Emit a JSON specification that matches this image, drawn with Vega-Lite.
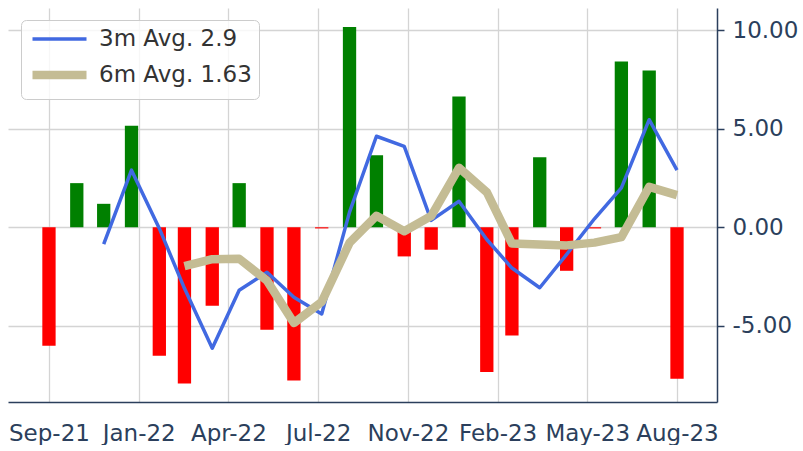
{
  "$schema": "https://vega.github.io/schema/vega-lite/v6.json",
  "width": 709,
  "height": 394,
  "padding": {"left": 8, "top": 8, "right": 0, "bottom": 0},
  "background": "white",
  "config": {
    "view": {"stroke": null},
    "font": "DejaVu Sans",
    "axis": {
      "labelFont": "DejaVu Sans",
      "labelFontSize": 23,
      "labelColor": "#2b3f5c",
      "domainColor": "#2b3f5c",
      "domainWidth": 1.5,
      "tickColor": "#2b3f5c",
      "tickWidth": 1.5,
      "gridColor": "#d4d4d4",
      "gridWidth": 1.3,
      "title": null
    },
    "legend": {
      "orient": "none",
      "legendX": 13,
      "legendY": 12,
      "symbolType": "M-1.0,0L4.4,0",
      "symbolSize": 400,
      "labelFont": "DejaVu Sans",
      "labelFontSize": 23,
      "labelColor": "#333333",
      "labelOffset": 42,
      "padding": 7,
      "rowPadding": 6.5,
      "strokeColor": "#cccccc",
      "fillColor": "rgba(255,255,255,0.8)",
      "cornerRadius": 5
    }
  },
  "datasets": {
    "bars": [
      {"date": "2021-09-30", "value": -6.02},
      {"date": "2021-10-31", "value": 2.24},
      {"date": "2021-11-30", "value": 1.19},
      {"date": "2021-12-31", "value": 5.15},
      {"date": "2022-01-31", "value": -6.52},
      {"date": "2022-02-28", "value": -7.93},
      {"date": "2022-03-31", "value": -3.98},
      {"date": "2022-04-30", "value": 2.24},
      {"date": "2022-05-31", "value": -5.2},
      {"date": "2022-06-30", "value": -7.78},
      {"date": "2022-07-31", "value": -0.06},
      {"date": "2022-08-31", "value": 10.16},
      {"date": "2022-09-30", "value": 3.66},
      {"date": "2022-10-31", "value": -1.48},
      {"date": "2022-11-30", "value": -1.14},
      {"date": "2022-12-31", "value": 6.64},
      {"date": "2023-01-31", "value": -7.35},
      {"date": "2023-02-28", "value": -5.49},
      {"date": "2023-03-31", "value": 3.56},
      {"date": "2023-04-30", "value": -2.21},
      {"date": "2023-05-31", "value": -0.06},
      {"date": "2023-06-30", "value": 8.42},
      {"date": "2023-07-31", "value": 7.96},
      {"date": "2023-08-31", "value": -7.69}
    ],
    "avgs": [
      {"date": "2021-11-30", "series": "3m Avg. 2.9", "avg": -0.86},
      {"date": "2021-12-31", "series": "3m Avg. 2.9", "avg": 2.9},
      {"date": "2022-01-31", "series": "3m Avg. 2.9", "avg": -0.06},
      {"date": "2022-02-28", "series": "3m Avg. 2.9", "avg": -3.1},
      {"date": "2022-03-31", "series": "3m Avg. 2.9", "avg": -6.14},
      {"date": "2022-04-30", "series": "3m Avg. 2.9", "avg": -3.2},
      {"date": "2022-05-31", "series": "3m Avg. 2.9", "avg": -2.28},
      {"date": "2022-06-30", "series": "3m Avg. 2.9", "avg": -3.55},
      {"date": "2022-07-31", "series": "3m Avg. 2.9", "avg": -4.4},
      {"date": "2022-08-31", "series": "3m Avg. 2.9", "avg": 0.77},
      {"date": "2022-09-30", "series": "3m Avg. 2.9", "avg": 4.62},
      {"date": "2022-10-31", "series": "3m Avg. 2.9", "avg": 4.11},
      {"date": "2022-11-30", "series": "3m Avg. 2.9", "avg": 0.35},
      {"date": "2022-12-31", "series": "3m Avg. 2.9", "avg": 1.32},
      {"date": "2023-01-31", "series": "3m Avg. 2.9", "avg": -0.62},
      {"date": "2023-02-28", "series": "3m Avg. 2.9", "avg": -2.07},
      {"date": "2023-03-31", "series": "3m Avg. 2.9", "avg": -3.07},
      {"date": "2023-04-30", "series": "3m Avg. 2.9", "avg": -1.38},
      {"date": "2023-05-31", "series": "3m Avg. 2.9", "avg": 0.43},
      {"date": "2023-06-30", "series": "3m Avg. 2.9", "avg": 2.0},
      {"date": "2023-07-31", "series": "3m Avg. 2.9", "avg": 5.46},
      {"date": "2023-08-31", "series": "3m Avg. 2.9", "avg": 2.9},
      {"date": "2022-02-28", "series": "6m Avg. 1.63", "avg": -1.97},
      {"date": "2022-03-31", "series": "6m Avg. 1.63", "avg": -1.62},
      {"date": "2022-04-30", "series": "6m Avg. 1.63", "avg": -1.6},
      {"date": "2022-05-31", "series": "6m Avg. 1.63", "avg": -2.71},
      {"date": "2022-06-30", "series": "6m Avg. 1.63", "avg": -4.86},
      {"date": "2022-07-31", "series": "6m Avg. 1.63", "avg": -3.79},
      {"date": "2022-08-31", "series": "6m Avg. 1.63", "avg": -0.79},
      {"date": "2022-09-30", "series": "6m Avg. 1.63", "avg": 0.58},
      {"date": "2022-10-31", "series": "6m Avg. 1.63", "avg": -0.2},
      {"date": "2022-11-30", "series": "6m Avg. 1.63", "avg": 0.57},
      {"date": "2022-12-31", "series": "6m Avg. 1.63", "avg": 3.02},
      {"date": "2023-01-31", "series": "6m Avg. 1.63", "avg": 1.78},
      {"date": "2023-02-28", "series": "6m Avg. 1.63", "avg": -0.83},
      {"date": "2023-03-31", "series": "6m Avg. 1.63", "avg": -0.87},
      {"date": "2023-04-30", "series": "6m Avg. 1.63", "avg": -0.92},
      {"date": "2023-05-31", "series": "6m Avg. 1.63", "avg": -0.78},
      {"date": "2023-06-30", "series": "6m Avg. 1.63", "avg": -0.5},
      {"date": "2023-07-31", "series": "6m Avg. 1.63", "avg": 2.05},
      {"date": "2023-08-31", "series": "6m Avg. 1.63", "avg": 1.63}
    ]
  },
  "encoding": {
    "x": {
      "field": "date",
      "type": "temporal",
      "scale": {
        "type": "utc",
        "padding": 0,
        "domain": [
          {"year": 2021, "month": 8, "date": 15, "hours": 8, "utc": true},
          {"year": 2023, "month": 10, "date": 14, "hours": 14, "utc": true}
        ]
      },
      "axis": {
        "orient": "bottom",
        "format": "%b-%y",
        "values": [
          {"year": 2021, "month": 9, "date": 30, "utc": true},
          {"year": 2022, "month": 1, "date": 8, "utc": true},
          {"year": 2022, "month": 4, "date": 18, "utc": true},
          {"year": 2022, "month": 7, "date": 27, "utc": true},
          {"year": 2022, "month": 11, "date": 4, "utc": true},
          {"year": 2023, "month": 2, "date": 12, "utc": true},
          {"year": 2023, "month": 5, "date": 23, "utc": true},
          {"year": 2023, "month": 8, "date": 31, "utc": true}
        ],
        "ticks": false,
        "tickSize": 0,
        "labelPadding": 20,
        "labelOverlap": false,
        "labelFlush": false,
        "grid": true
      }
    }
  },
  "layer": [
    {
      "data": {"name": "bars"},
      "mark": {"type": "bar", "size": 13.3},
      "encoding": {
        "y": {
          "field": "value",
          "type": "quantitative",
          "scale": {"domain": [-8.87, 11.13], "nice": false, "zero": false, "padding": 0},
          "axis": {
            "orient": "right",
            "values": [-5, 0, 5, 10],
            "labelExpr": "(datum.value < 0 ? '-' : '') + format(abs(datum.value), '.2f')",
            "tickSize": 7,
            "labelPadding": 8,
            "grid": true
          }
        },
        "color": {
          "condition": {"test": "datum.value >= 0", "value": "#008000"},
          "value": "#ff0000"
        }
      }
    },
    {
      "data": {"name": "avgs"},
      "mark": {"type": "line", "strokeJoin": "round", "strokeCap": "butt"},
      "encoding": {
        "y": {"field": "avg", "type": "quantitative"},
        "color": {
          "field": "series",
          "type": "nominal",
          "scale": {"domain": ["3m Avg. 2.9", "6m Avg. 1.63"], "range": ["#4169e1", "#c4bc94"]},
          "legend": {"title": null}
        },
        "strokeWidth": {
          "field": "series",
          "type": "ordinal",
          "scale": {"domain": ["3m Avg. 2.9", "6m Avg. 1.63"], "range": [3.5, 8.5]},
          "legend": {"title": null}
        },
        "order": {"field": "series"}
      }
    }
  ]
}
